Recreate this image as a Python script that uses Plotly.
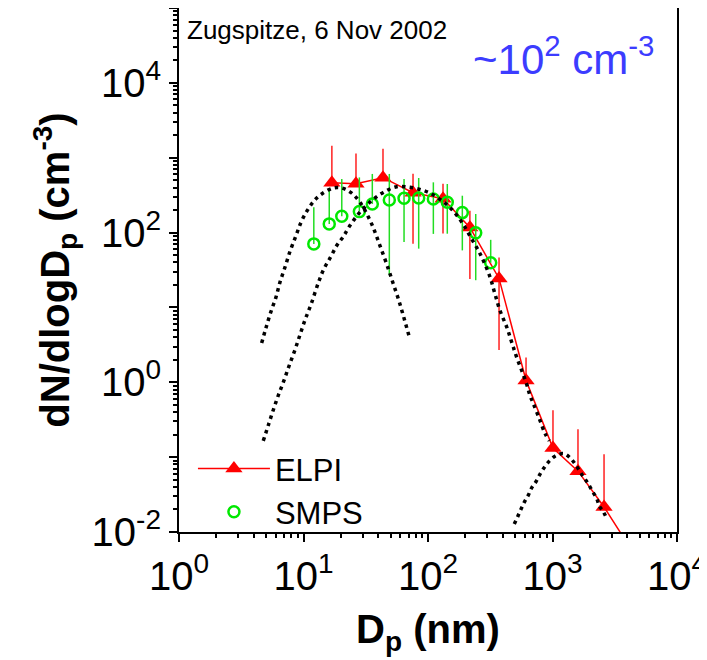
import plotly.graph_objects as go

# ---------------- data ----------------
elpi_dp = [16.9, 26.4, 43.5, 75.8, 132, 217, 372, 613, 1009, 1602, 2594, 4190]
elpi_dn = [464, 450, 541, 341, 284, 117, 24.4, 1.06, 0.132, 0.065, 0.0216, 0.0062]
elpi_err_plus = [980, 690, 777, 271, 166, 79, 22, 1.09, 0.29, 0.17, 0.088, 0]
elpi_err_minus = [0, 0, 0, 270, 187, 93, 21.7, 0, 0, 0, 0, 0]

smps_dp = [12.1, 16.1, 20.3, 28.1, 35.7, 48.9, 64.2, 84.2, 110.4, 142.9, 188.7, 241.7, 318.9]
smps_dn = [70.6, 130.6, 164.8, 190.5, 241.3, 273, 286.6, 290, 281, 253.6, 184.8, 99.1, 39.5]
smps_err_plus = [147, 240, 355, 355, 366, 334, 233, 246, 188, 192, 126, 78, 40.5]
smps_err_minus = [0, 0, 0, 0, 0, 246, 212, 229, 185, 157, 127, 76, 0]

# fitted log-normal modes (dotted curves)
mode1_dp = [4.61, 5.00, 5.46, 6.01, 6.47, 7.10, 7.80, 8.65, 9.55, 10.7, 12.2, 14.0,
            17.3, 20.3, 24.1, 28.4, 34.8, 41.1, 48.0, 52.6, 57.7, 62.7, 70.8]
mode1_dn = [3.34, 5.36, 8.65, 13.7, 21.7, 34.4, 56.4, 88.5, 137, 196, 267, 328,
            394, 394, 341, 254, 137, 67.1, 32.8, 20.7, 13.1, 8.24, 4.02]

mode2_dp = [4.75, 5.21, 5.71, 6.28, 6.97, 7.69, 8.55, 9.38, 10.3, 11.5, 13.2, 14.6,
            16.5, 18.5, 20.9, 23.6, 28.4, 35.3, 43.8, 56.1, 71.6, 88.9, 107, 129,
            150, 175, 198, 224, 254, 278, 315, 345, 378, 429, 470, 515, 612, 659,
            701, 783, 871, 942]
mode2_dn = [0.165, 0.265, 0.424, 0.671, 1.06, 1.69, 2.73, 4.33, 6.85, 11.0, 21.7, 32.8,
            46.9, 67.1, 88.5, 124, 187, 267, 344, 410, 402, 371, 328, 267,
            217, 160, 118, 82.4, 57.5, 42.4, 25.4, 15.2, 9.12, 5.46, 3.44, 2.17, 1.01, 0.671,
            0.520, 0.328, 0.207, 0.165]

mode3_dp = [493, 525, 558, 593, 640, 681, 736, 794, 859, 942, 1047, 1222, 1384,
            1560, 1770, 1941, 2104, 2265, 2377, 2559, 2723]
mode3_dn = [0.0128, 0.0160, 0.0201, 0.0249, 0.0311, 0.0390, 0.0469, 0.0593, 0.0729,
            0.0885, 0.103, 0.112, 0.098, 0.0759, 0.0546, 0.0437, 0.0344, 0.0281,
            0.0222, 0.0187, 0.0152]

x_tick_vals = [1, 10, 100, 1000, 10000]
x_tick_text = ["10<sup>0</sup>", "10<sup>1</sup>", "10<sup>2</sup>", "10<sup>3</sup>", "10<sup>4</sup>"]
y_tick_vals = [0.01, 0.1, 1, 10, 100, 1000, 10000, 100000]
y_tick_text = ["10<sup>-2</sup>", "", "10<sup>0</sup>", "", "10<sup>2</sup>", "", "10<sup>4</sup>", ""]

FONT = "Liberation Sans, Arial, sans-serif"

x_minor = [k * 10 ** n for n in range(0, 4) for k in range(2, 10)]
y_minor = [k * 10.0 ** n for n in range(-2, 5) for k in range(2, 10)]

fig = go.Figure()

fig.add_trace(go.Scatter(
    x=elpi_dp, y=elpi_dn, name="ELPI", mode="lines+markers",
    line=dict(color="#ff0000", width=1.5),
    marker=dict(symbol="triangle-up", size=15, color="#ff0000"),
    error_y=dict(type="data", symmetric=False, array=elpi_err_plus,
                 arrayminus=elpi_err_minus, color="#ff2020", thickness=1.5, width=0),
))

fig.add_trace(go.Scatter(
    x=smps_dp, y=smps_dn, name="SMPS", mode="markers",
    marker=dict(symbol="circle-open", size=11, color="#00e800", line=dict(width=2.5, color="#00e800")),
    error_y=dict(type="data", symmetric=False, array=smps_err_plus,
                 arrayminus=smps_err_minus, color="#22dd22", thickness=1.5, width=0),
))

for dp, dn in [(mode1_dp, mode1_dn), (mode2_dp, mode2_dn), (mode3_dp, mode3_dn)]:
    fig.add_trace(go.Scatter(
        x=dp, y=dn, mode="lines", showlegend=False, hoverinfo="skip",
        line=dict(color="black", width=3.5, dash="3.5px,4.2px", shape="spline"),
    ))

axis_common = dict(
    type="log", showgrid=False, zeroline=False, showline=True, linecolor="black",
    linewidth=2, mirror=True, ticks="outside", ticklen=8, tickwidth=2, tickcolor="black",
    tickmode="array", tickfont=dict(family=FONT, size=40, color="black"),
    automargin=False, ticklabeloverflow="allow",
)

fig.update_xaxes(
    **axis_common, range=[0, 4], tickvals=x_tick_vals, ticktext=x_tick_text,
    minor=dict(tickmode="array", tickvals=x_minor, ticks="outside", ticklen=4,
               tickwidth=1.5, tickcolor="black"),
    title=dict(text="<b>D<sub>p</sub> (nm)</b>", font=dict(family=FONT, size=40, color="black"),
               standoff=18),
)
fig.update_yaxes(
    **axis_common, range=[-2, 5], tickvals=y_tick_vals, ticktext=y_tick_text,
    minor=dict(tickmode="array", tickvals=y_minor, ticks="outside", ticklen=4,
               tickwidth=1.5, tickcolor="black"),
    title=dict(text="<b>dN/dlogD<sub>p</sub> (cm<sup>-3</sup>)</b>",
               font=dict(family=FONT, size=40, color="black"), standoff=10),
)

fig.add_annotation(
    text="Zugspitze, 6 Nov 2002", xref="paper", yref="paper", x=0.012, y=0.958,
    xanchor="left", yanchor="middle", showarrow=False,
    font=dict(family=FONT, size=26, color="black"),
)
fig.add_annotation(
    text="~10<sup>2</sup> cm<sup>-3</sup>", xref="paper", yref="paper", x=0.958, y=0.908,
    xanchor="right", yanchor="middle", showarrow=False,
    font=dict(family=FONT, size=42, color="#3c3cff"),
)

# the page body adds an 8 px offset, so the figure is sized to fit the window
fig.update_layout(
    width=699, height=652,
    margin=dict(l=171, r=30, t=0, b=128),
    paper_bgcolor="white", plot_bgcolor="white",
    legend=dict(x=0.028, y=0.172, xanchor="left", yanchor="top",
                bgcolor="rgba(0,0,0,0)", borderwidth=0, itemwidth=72,
                font=dict(family=FONT, size=31, color="black"), tracegroupgap=0),
)

fig.write_html("out.html")
